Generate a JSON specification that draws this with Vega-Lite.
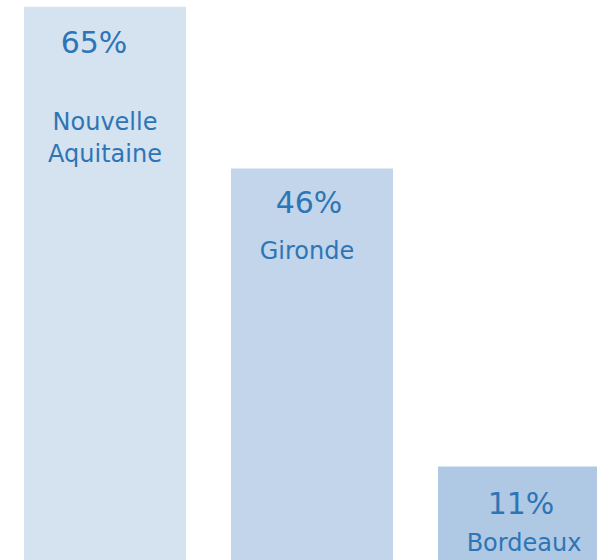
{
  "$schema": "https://vega.github.io/schema/vega-lite/v6.json",
  "width": 624,
  "height": 560,
  "autosize": {"type": "none"},
  "padding": 0,
  "background": "white",
  "config": {"view": {"stroke": null}},
  "data": {"values": [
    {"name": "Nouvelle Aquitaine", "value": 0.65},
    {"name": "Gironde", "value": 0.46},
    {"name": "Bordeaux", "value": 0.11}
  ]},
  "encoding": {
    "x": {"field": "name", "type": "nominal", "sort": null, "axis": null,
          "scale": {"paddingInner": 0.2174, "paddingOuter": 0.116}},
    "y": {"field": "value", "type": "quantitative", "axis": null,
          "scale": {"domain": [0, 0.658], "nice": false, "zero": true}}
  },
  "layer": [
    {
      "mark": {"type": "bar", "color": "#2e6eb5"},
      "encoding": {
        "opacity": {"field": "name", "type": "nominal", "legend": null,
                    "scale": {"domain": ["Nouvelle Aquitaine", "Gironde", "Bordeaux"], "range": [0.2, 0.38, 0.55]}}
      }
    },
    {
      "transform": [{"filter": "datum.name === 'Nouvelle Aquitaine'"}],
      "mark": {"type": "text", "font": "DejaVu Sans", "fontSize": 30, "color": "#2e75b6", "baseline": "middle", "dy": 37, "dx": -11},
      "encoding": {"text": {"field": "value", "type": "quantitative", "format": ".0%"}}
    },
    {
      "transform": [{"filter": "datum.name === 'Gironde'"}],
      "mark": {"type": "text", "font": "DejaVu Sans", "fontSize": 30, "color": "#2e75b6", "baseline": "middle", "dy": 35, "dx": -3},
      "encoding": {"text": {"field": "value", "type": "quantitative", "format": ".0%"}}
    },
    {
      "transform": [{"filter": "datum.name === 'Bordeaux'"}],
      "mark": {"type": "text", "font": "DejaVu Sans", "fontSize": 30, "color": "#2e75b6", "baseline": "middle", "dy": 39, "dx": 2},
      "encoding": {"text": {"field": "value", "type": "quantitative", "format": ".0%"}}
    },
    {
      "transform": [{"filter": "datum.name === 'Nouvelle Aquitaine'"}],
      "mark": {"type": "text", "font": "DejaVu Sans", "fontSize": 24, "color": "#2e75b6", "baseline": "middle", "dy": 116, "lineBreak": " ", "lineHeight": 32},
      "encoding": {"text": {"field": "name"}}
    },
    {
      "transform": [{"filter": "datum.name === 'Gironde'"}],
      "mark": {"type": "text", "font": "DejaVu Sans", "fontSize": 24, "color": "#2e75b6", "baseline": "middle", "dy": 83, "dx": -5},
      "encoding": {"text": {"field": "name"}}
    },
    {
      "transform": [{"filter": "datum.name === 'Bordeaux'"}],
      "mark": {"type": "text", "font": "DejaVu Sans", "fontSize": 24, "color": "#2e75b6", "baseline": "middle", "dy": 78, "dx": 5},
      "encoding": {"text": {"field": "name"}}
    }
  ]
}
